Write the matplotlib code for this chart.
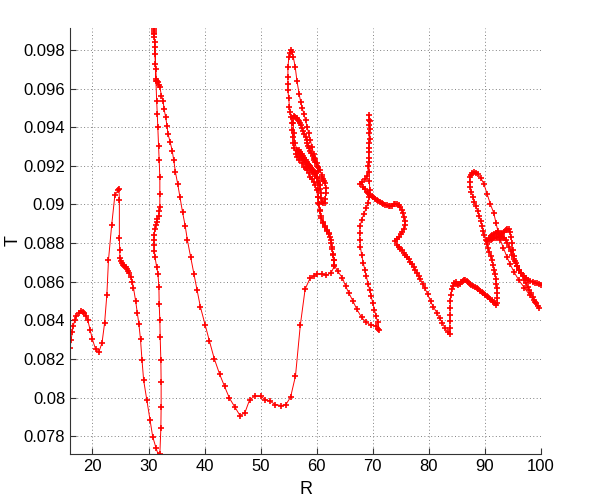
import numpy as np
import matplotlib
matplotlib.use('Agg')
import matplotlib.pyplot as plt
from matplotlib.ticker import FuncFormatter

plt.rcParams['font.family'] = ['Liberation Sans', 'DejaVu Sans']

# trajectory, (R, T) in drawing order
seg_start = [(16.0, 0.08258), (16.2, 0.08300), (16.4, 0.08340), (16.57, 0.08370), (16.85, 0.08400),
             (17.14, 0.08421), (17.55, 0.08440), (18.0, 0.08447), (18.3, 0.08445), (18.57, 0.08439),
             (18.85, 0.08425), (19.14, 0.08404), (19.6, 0.08350), (20.0, 0.08301), (20.57, 0.08250),
             (21.14, 0.08236), (21.71, 0.08284), (22.17, 0.08387), (22.57, 0.08533), (22.86, 0.08713),
             (23.43, 0.08894), (24.0, 0.09048), (24.57, 0.09074), (24.74, 0.09082), (24.8, 0.09022),
             (24.8, 0.08825), (24.86, 0.08765), (24.91, 0.08722), (25.1, 0.08705), (25.3, 0.08695),
             (25.5, 0.08688), (25.7, 0.08682), (25.9, 0.08675), (26.1, 0.08668), (26.29, 0.08658),
             (26.55, 0.08645), (26.86, 0.08627), (27.1, 0.08600), (27.31, 0.08570), (27.71, 0.08499),
             (28.0, 0.08439), (28.29, 0.08379), (28.57, 0.08301), (28.84, 0.08193), (29.13, 0.08090),
             (29.71, 0.07986), (30.29, 0.07883), (30.75, 0.07797), (31.33, 0.07740), (31.73, 0.07705)]

seg_spike = [(32.02, 0.07710), (32.2, 0.07840), (32.25, 0.07952), (32.25, 0.08081), (32.2, 0.08193),
             (32.08, 0.08314), (32.02, 0.08400), (31.9, 0.08486), (31.85, 0.08572), (31.68, 0.08641),
             (31.45, 0.08676), (31.16, 0.08728), (31.05, 0.08760), (30.98, 0.08790), (30.98, 0.08815),
             (31.0, 0.08840), (31.16, 0.08874), (31.3, 0.08892), (31.45, 0.08909), (31.6, 0.08925),
             (31.79, 0.08943), (31.95, 0.08965), (32.02, 0.08986), (32.02, 0.09055), (32.02, 0.09141),
             (31.9, 0.09228), (31.79, 0.09305), (31.68, 0.09400), (31.56, 0.09469), (31.45, 0.09538),
             (31.33, 0.09641), (31.21, 0.09728), (31.1, 0.09814), (31.04, 0.09866), (31.0, 0.09885),
             (30.98, 0.09900), (30.98, 0.09910), (30.98, 0.09917), (31.0, 0.09890), (31.1, 0.09840),
             (31.2, 0.09780), (31.3, 0.09700), (31.33, 0.09650), (31.5, 0.09640), (31.62, 0.09633),
             (31.8, 0.09620), (32.02, 0.09607)]

seg_valley = [(32.31, 0.09564), (32.6, 0.09538), (32.77, 0.09495), (33.06, 0.09452), (33.29, 0.09409),
              (33.47, 0.09366), (33.87, 0.09322), (34.22, 0.09279), (34.51, 0.09228), (34.8, 0.09167),
              (35.2, 0.09107), (35.61, 0.09038), (36.07, 0.08960), (36.53, 0.08891), (36.94, 0.08814),
              (37.51, 0.08728), (38.09, 0.08641), (38.67, 0.08555), (39.25, 0.08470), (40.11, 0.08375),
              (40.86, 0.08293), (41.72, 0.08202), (42.7, 0.08120), (43.56, 0.08058), (44.43, 0.07997),
              (45.4, 0.07951), (46.32, 0.07907), (47.18, 0.07921), (48.05, 0.07990), (49.02, 0.08008),
              (50.0, 0.08006), (50.86, 0.07990), (51.72, 0.07980), (52.64, 0.07964), (53.62, 0.07959),
              (54.48, 0.07963), (55.34, 0.08003), (56.21, 0.08112), (57.07, 0.08375), (57.93, 0.08562),
              (58.79, 0.08617), (59.5, 0.08630), (60.0, 0.08641), (60.86, 0.08641), (61.71, 0.08634),
              (62.57, 0.08646), (63.14, 0.08681)]

seg_loops = [(63.0, 0.08710), (62.9, 0.08740), (62.75, 0.08770), (62.57, 0.08801), (62.35, 0.08830),
             (62.11, 0.08852), (61.8, 0.08870), (61.43, 0.08887), (61.1, 0.08910), (60.74, 0.08938),
             (60.5, 0.08970), (60.29, 0.09007), (60.15, 0.09040), (60.0, 0.09076), (59.7, 0.09100),
             (59.43, 0.09118), (59.1, 0.09132), (58.86, 0.09144), (58.55, 0.09162), (58.29, 0.09179),
             (58.0, 0.09188), (57.71, 0.09196), (57.3, 0.09213), (56.86, 0.09230), (56.55, 0.09247),
             (56.29, 0.09264), (56.0, 0.09290), (55.83, 0.09316), (55.7, 0.09350), (55.6, 0.09385),
             (55.5, 0.09420), (55.43, 0.09453), (55.3, 0.09480), (55.14, 0.09505), (55.0, 0.09550),
             (54.86, 0.09591), (54.86, 0.09625), (54.86, 0.09659), (54.86, 0.09711), (55.03, 0.09762),
             (55.2, 0.09785), (55.43, 0.09800), (55.6, 0.09790), (55.83, 0.09762), (56.17, 0.09711),
             (56.46, 0.09642), (56.86, 0.09573), (57.14, 0.09530), (57.4, 0.09500), (57.71, 0.09470),
             (58.0, 0.09436), (58.29, 0.09402), (58.57, 0.09368), (58.86, 0.09333), (59.15, 0.09298),
             (59.43, 0.09264), (59.7, 0.09238), (60.0, 0.09213), (60.3, 0.09195), (60.57, 0.09179),
             (60.86, 0.09153), (61.0, 0.09140), (61.14, 0.09130), (61.35, 0.09120), (61.54, 0.09110),
             (61.6, 0.09085), (61.6, 0.09058), (61.55, 0.09030), (61.43, 0.09007), (61.15, 0.09010),
             (60.86, 0.09015), (60.75, 0.09035), (60.69, 0.09058), (60.6, 0.09080), (60.57, 0.09100),
             (60.4, 0.09120), (60.1, 0.09135), (59.7, 0.09150), (59.2, 0.09170), (58.7, 0.09190),
             (58.1, 0.09210), (57.5, 0.09230), (57.0, 0.09250), (56.5, 0.09280), (56.1, 0.09320),
             (55.9, 0.09370), (55.8, 0.09420), (55.75, 0.09450), (55.9, 0.09460), (56.1, 0.09455),
             (56.4, 0.09450), (56.6, 0.09440), (56.8, 0.09430), (57.0, 0.09420), (57.14, 0.09410),
             (57.4, 0.09395), (57.6, 0.09380), (57.8, 0.09365), (58.0, 0.09350), (58.2, 0.09335),
             (58.35, 0.09320), (58.5, 0.09305), (58.69, 0.09290), (58.85, 0.09278), (59.05, 0.09265),
             (59.25, 0.09252), (59.43, 0.09240), (59.6, 0.09230), (59.75, 0.09220), (60.0, 0.09200),
             (60.2, 0.09175), (59.8, 0.09165), (59.3, 0.09180), (58.7, 0.09200), (58.0, 0.09220),
             (57.4, 0.09240), (56.9, 0.09260), (56.6, 0.09275), (56.8, 0.09280), (57.05, 0.09270),
             (57.31, 0.09260), (57.55, 0.09250), (57.8, 0.09240), (58.05, 0.09230), (58.29, 0.09220),
             (58.5, 0.09212), (58.7, 0.09205), (58.85, 0.09198), (59.03, 0.09190), (59.2, 0.09182),
             (59.4, 0.09175), (59.55, 0.09168), (59.71, 0.09160), (60.0, 0.09140), (60.2, 0.09110),
             (60.25, 0.09080), (60.3, 0.09040), (60.35, 0.09000), (60.5, 0.08965), (60.74, 0.08930),
             (61.1, 0.08905), (61.5, 0.08885), (61.9, 0.08865), (62.2, 0.08845), (62.5, 0.08815),
             (62.7, 0.08780), (62.85, 0.08745), (63.0, 0.08715), (63.14, 0.08685)]

seg_seventy = [(63.71, 0.08655), (64.57, 0.08621), (65.14, 0.08578), (65.71, 0.08543), (66.46, 0.08500),
               (67.14, 0.08458), (68.0, 0.08415), (68.86, 0.08389), (69.71, 0.08375), (70.57, 0.08370),
               (71.0, 0.08355), (71.14, 0.08352), (70.9, 0.08390), (70.57, 0.08421), (70.3, 0.08455),
               (70.0, 0.08490), (69.7, 0.08525), (69.43, 0.08559), (69.15, 0.08590), (68.86, 0.08628),
               (68.6, 0.08660), (68.3, 0.08697), (68.0, 0.08740), (67.8, 0.08780), (67.7, 0.08815),
               (67.65, 0.08850), (67.75, 0.08887), (68.0, 0.08920), (68.4, 0.08950), (68.8, 0.08980),
               (69.2, 0.09010), (69.4, 0.09040), (69.45, 0.09075), (69.4, 0.09120), (69.35, 0.09170),
               (69.3, 0.09220), (69.25, 0.09270), (69.3, 0.09320), (69.35, 0.09370), (69.4, 0.09410),
               (69.35, 0.09440), (69.33, 0.09463), (69.45, 0.09430), (69.5, 0.09390), (69.45, 0.09340),
               (69.35, 0.09290), (69.25, 0.09240), (69.2, 0.09200), (69.05, 0.09150), (68.6, 0.09130),
               (68.1, 0.09115), (67.8, 0.09105)]

seg_descent = [(68.3, 0.09090), (68.6, 0.09078), (68.9, 0.09066), (69.2, 0.09058), (69.5, 0.09050),
               (69.8, 0.09044), (70.1, 0.09038), (70.4, 0.09030), (70.7, 0.09024), (71.0, 0.09018),
               (71.3, 0.09012), (71.6, 0.09008), (71.9, 0.09003), (72.2, 0.08999), (72.5, 0.08995),
               (72.8, 0.08992), (73.1, 0.08990), (73.4, 0.08992), (73.7, 0.09000), (74.0, 0.09005),
               (74.3, 0.09004), (74.6, 0.08998), (74.9, 0.08988), (75.15, 0.08972), (75.35, 0.08955),
               (75.55, 0.08935), (75.7, 0.08915), (75.75, 0.08895), (75.55, 0.08875), (75.25, 0.08860),
               (74.95, 0.08845), (74.6, 0.08832), (74.3, 0.08820), (74.0, 0.08810), (74.3, 0.08792),
               (74.6, 0.08782), (74.9, 0.08772), (75.2, 0.08762), (75.5, 0.08750), (75.8, 0.08738),
               (76.1, 0.08728), (76.4, 0.08716), (76.7, 0.08703), (77.0, 0.08690), (77.3, 0.08677),
               (77.6, 0.08662), (77.9, 0.08645), (78.2, 0.08628), (78.5, 0.08612), (78.9, 0.08590),
               (79.3, 0.08566), (79.8, 0.08534), (80.3, 0.08498), (80.8, 0.08470), (81.4, 0.08440),
               (81.9, 0.08412), (82.4, 0.08388), (82.9, 0.08358), (83.35, 0.08340), (83.71, 0.08330)]

seg_bump = [(83.74, 0.08360), (83.76, 0.08395), (83.78, 0.08430), (83.8, 0.08465), (83.85, 0.08500),
            (83.92, 0.08530), (84.05, 0.08560), (84.25, 0.08580), (84.5, 0.08592), (84.75, 0.08597),
            (85.0, 0.08590), (85.25, 0.08582), (85.5, 0.08588), (85.75, 0.08598), (86.0, 0.08606),
            (86.25, 0.08610), (86.5, 0.08608), (86.75, 0.08603), (87.0, 0.08598), (87.3, 0.08590),
            (87.6, 0.08583), (87.9, 0.08577), (88.2, 0.08571), (88.5, 0.08566), (88.8, 0.08560),
            (89.1, 0.08553), (89.4, 0.08546), (89.7, 0.08540), (90.0, 0.08533), (90.3, 0.08527),
            (90.6, 0.08520), (90.9, 0.08513), (91.2, 0.08505), (91.5, 0.08497), (91.8, 0.08488),
            (92.05, 0.08480), (92.2, 0.08490), (92.22, 0.08515), (92.18, 0.08540), (92.12, 0.08565),
            (92.05, 0.08590), (91.95, 0.08615), (91.85, 0.08638), (91.7, 0.08660), (91.5, 0.08685),
            (91.3, 0.08710), (91.05, 0.08735), (90.8, 0.08755), (90.55, 0.08775), (90.3, 0.08795),
            (90.1, 0.08815), (89.9, 0.08840), (89.7, 0.08865), (89.5, 0.08890), (89.25, 0.08915),
            (89.0, 0.08940), (88.7, 0.08965), (88.4, 0.08990), (88.1, 0.09015), (87.85, 0.09040),
            (87.6, 0.09065), (87.4, 0.09090), (87.25, 0.09115), (87.3, 0.09140), (87.5, 0.09155),
            (87.75, 0.09165), (88.05, 0.09170), (88.35, 0.09165), (88.7, 0.09158)]

seg_cluster = [(89.25, 0.09139), (89.83, 0.09105), (90.4, 0.09053), (90.98, 0.09001), (91.56, 0.08957),
               (91.97, 0.08905), (92.31, 0.08862), (92.72, 0.08818), (93.29, 0.08775), (93.9, 0.08730),
               (94.5, 0.08690), (95.2, 0.08650), (96.0, 0.08610), (97.0, 0.08570), (98.0, 0.08530),
               (98.9, 0.08495), (99.65, 0.08463), (99.4, 0.08475), (99.1, 0.08490), (98.8, 0.08505),
               (98.5, 0.08522), (98.2, 0.08540), (97.9, 0.08558), (97.6, 0.08575), (97.3, 0.08592),
               (97.0, 0.08610), (96.7, 0.08628), (96.4, 0.08645), (96.1, 0.08662), (95.8, 0.08680),
               (95.5, 0.08698), (95.2, 0.08718), (94.9, 0.08738), (94.6, 0.08760), (94.3, 0.08782),
               (94.0, 0.08803), (93.7, 0.08818), (93.4, 0.08828), (93.1, 0.08832), (92.8, 0.08835),
               (92.5, 0.08834), (92.2, 0.08831), (91.9, 0.08828), (91.6, 0.08825), (91.3, 0.08822),
               (91.0, 0.08818), (90.7, 0.08814), (90.4, 0.08810), (90.7, 0.08825), (91.0, 0.08835),
               (91.3, 0.08842), (91.6, 0.08847), (91.9, 0.08850), (92.2, 0.08850), (92.5, 0.08848),
               (92.8, 0.08846), (93.1, 0.08852), (93.4, 0.08860), (93.7, 0.08870), (94.0, 0.08875),
               (94.3, 0.08872), (94.5, 0.08855), (94.65, 0.08830), (94.8, 0.08800), (94.95, 0.08765),
               (95.1, 0.08735), (95.35, 0.08705), (95.7, 0.08682), (96.1, 0.08663), (96.5, 0.08646),
               (96.9, 0.08632), (97.3, 0.08620), (97.7, 0.08611), (98.1, 0.08604), (98.5, 0.08599),
               (98.9, 0.08595), (99.3, 0.08591), (99.65, 0.08588), (100.0, 0.08585)]

path = (seg_start + seg_spike + seg_valley + seg_loops + seg_seventy
        + seg_descent + seg_bump + seg_cluster)
R = np.array([p[0] for p in path])
T = np.array([p[1] for p in path])

fig = plt.figure(figsize=(6.0, 4.99), dpi=100)
ax = fig.add_axes([0.1167, 0.0902, 0.785, 0.8537])

ax.plot(R, T, '-+', color='red', linewidth=0.7, markersize=4.5, markeredgewidth=1.2)

ax.set_xlim(16, 100)
ax.set_ylim(0.07708, 0.09914)
ax.set_xticks(np.arange(20, 101, 10))
ax.set_yticks(np.arange(0.078, 0.0985, 0.002))
ax.yaxis.set_major_formatter(FuncFormatter(lambda v, p: '%g' % round(v, 3)))
ax.grid(True, color='#808080', linestyle=(0, (1, 2.5)), linewidth=0.7)
ax.set_axisbelow(True)

for s in ['top', 'right']:
    ax.spines[s].set_visible(False)
for s in ['left', 'bottom']:
    ax.spines[s].set_color('#333333')
ax.tick_params(direction='in', length=4, labelsize=12, colors='#333333', labelcolor='black')

ax.set_xlabel('R', fontsize=13, labelpad=5)
ax.set_ylabel('T', fontsize=13, labelpad=1)

fig.savefig('out.png', dpi=100)
